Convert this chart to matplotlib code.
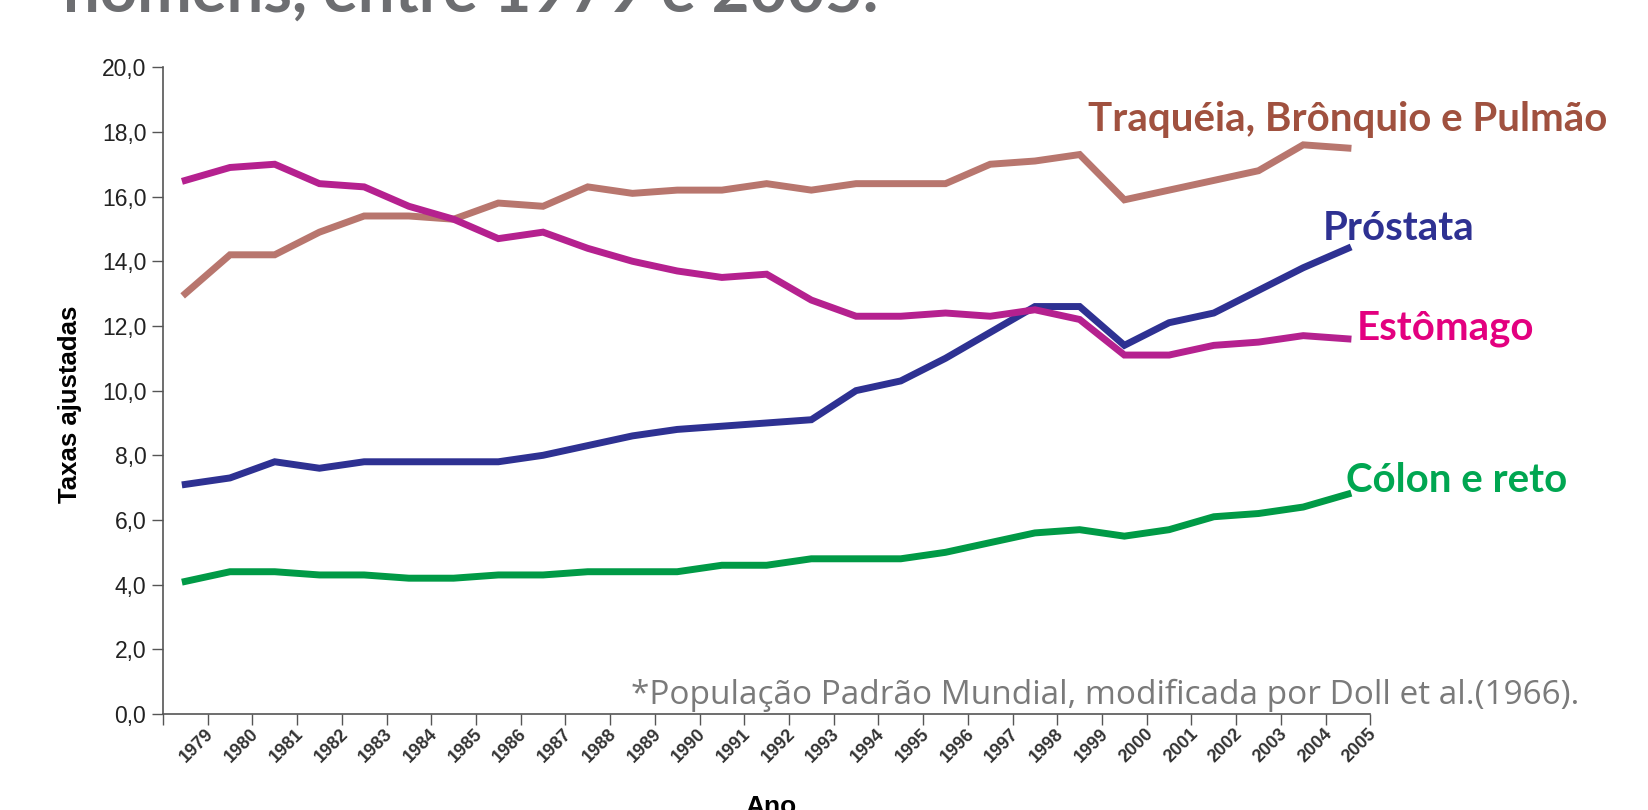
import matplotlib.pyplot as plt
import numpy as np

# Taxas ajustadas de mortalidade (homens), 1979-2005
anos = list(range(1979, 2006))

traqueia = [13.0, 14.2, 14.2, 14.9, 15.4, 15.4, 15.3, 15.8, 15.7, 16.3, 16.1, 16.2, 16.2, 16.4,
            16.2, 16.4, 16.4, 16.4, 17.0, 17.1, 17.3, 15.9, 16.2, 16.5, 16.8, 17.6, 17.5]
estomago = [16.5, 16.9, 17.0, 16.4, 16.3, 15.7, 15.3, 14.7, 14.9, 14.4, 14.0, 13.7, 13.5, 13.6,
            12.8, 12.3, 12.3, 12.4, 12.3, 12.5, 12.2, 11.1, 11.1, 11.4, 11.5, 11.7, 11.6]
prostata = [7.1, 7.3, 7.8, 7.6, 7.8, 7.8, 7.8, 7.8, 8.0, 8.3, 8.6, 8.8, 8.9, 9.0,
            9.1, 10.0, 10.3, 11.0, 11.8, 12.6, 12.6, 11.4, 12.1, 12.4, 13.1, 13.8, 14.4]
colon = [4.1, 4.4, 4.4, 4.3, 4.3, 4.2, 4.2, 4.3, 4.3, 4.4, 4.4, 4.4, 4.6, 4.6,
         4.8, 4.8, 4.8, 5.0, 5.3, 5.6, 5.7, 5.5, 5.7, 6.1, 6.2, 6.4, 6.8]

nomes = ["Traquéia, Brônquio e Pulmão", "Próstata", "Estômago", "Cólon e reto"]
cores_linha = ["#B8766E", "#2E3192", "#B5218F", "#009A46"]
cores_texto = ["#A0513F", "#2E3192", "#E3007F", "#00A651"]

fig = plt.figure(figsize=(16.49, 8.10), dpi=100)
ax = fig.add_axes([0.0988, 0.1185, 0.7322, 0.7985])

x = np.arange(len(anos))
for serie, cor in zip([traqueia, prostata, estomago, colon], cores_linha):
    ax.plot(x, serie, color=cor, linewidth=5, solid_joinstyle='miter')

ax.set_xlim(-0.5, len(anos) - 0.5)
ax.set_ylim(0, 20)
yt = np.arange(0, 20.1, 2)
ax.set_yticks(yt)
ax.set_yticklabels([f"{v:.1f}".replace('.', ',') for v in yt],
                   fontsize=16.5, family='Liberation Sans', color='#222222')

# marcas do eixo x entre as categorias, rótulos no centro
ax.set_xticks(np.arange(-0.5, len(anos), 1))
ax.set_xticklabels([])
ax.tick_params(axis='x', length=8, color='#555555', width=1)
ax.tick_params(axis='y', length=8, color='#555555', width=1, pad=4)
for i, a in enumerate(anos):
    ax.text(i + 0.45, -0.35, str(a), rotation=45, ha='right', va='top', rotation_mode='anchor',
            fontsize=13, family='Liberation Sans', fontweight='bold', color='#333333',
            transform=ax.transData, clip_on=False)

for s in ['top', 'right']:
    ax.spines[s].set_visible(False)
for s in ['left', 'bottom']:
    ax.spines[s].set_color('#555555')
    ax.spines[s].set_linewidth(1.2)

fig.text(70 / 1649, 1 - 404 / 810, "Taxas ajustadas", rotation=90, fontsize=18.5, fontweight='bold',
         family='Liberation Sans', ha='center', va='center')
fig.text(771 / 1649, 1 - 795 / 810, "Ano", fontsize=19, fontweight='bold', family='Liberation Sans',
         ha='center', va='top')

# nomes das séries
posicoes = [(1088, 119), (1323, 228), (1357, 329), (1346, 480)]
for nome, cor, (px, py) in zip(nomes, cores_texto, posicoes):
    fig.text(px / 1649, 1 - py / 810, nome, color=cor, fontsize=29, fontweight='bold',
             family='Lato', ha='left', va='center')

fig.text(631 / 1649, 1 - 704 / 810, "*População Padrão Mundial, modificada por Doll et al.(1966).",
         color='#7A7A7A', fontsize=24, family='Open Sans', ha='left', va='baseline')

# título cortado no topo
fig.text(63 / 1649, 1 - 12 / 810, "homens, entre 1979 e 2005.", color='#6D6E71', fontsize=47,
         fontweight='bold', family='Lato', ha='left', va='baseline')

fig.savefig("out.png", dpi=100)
